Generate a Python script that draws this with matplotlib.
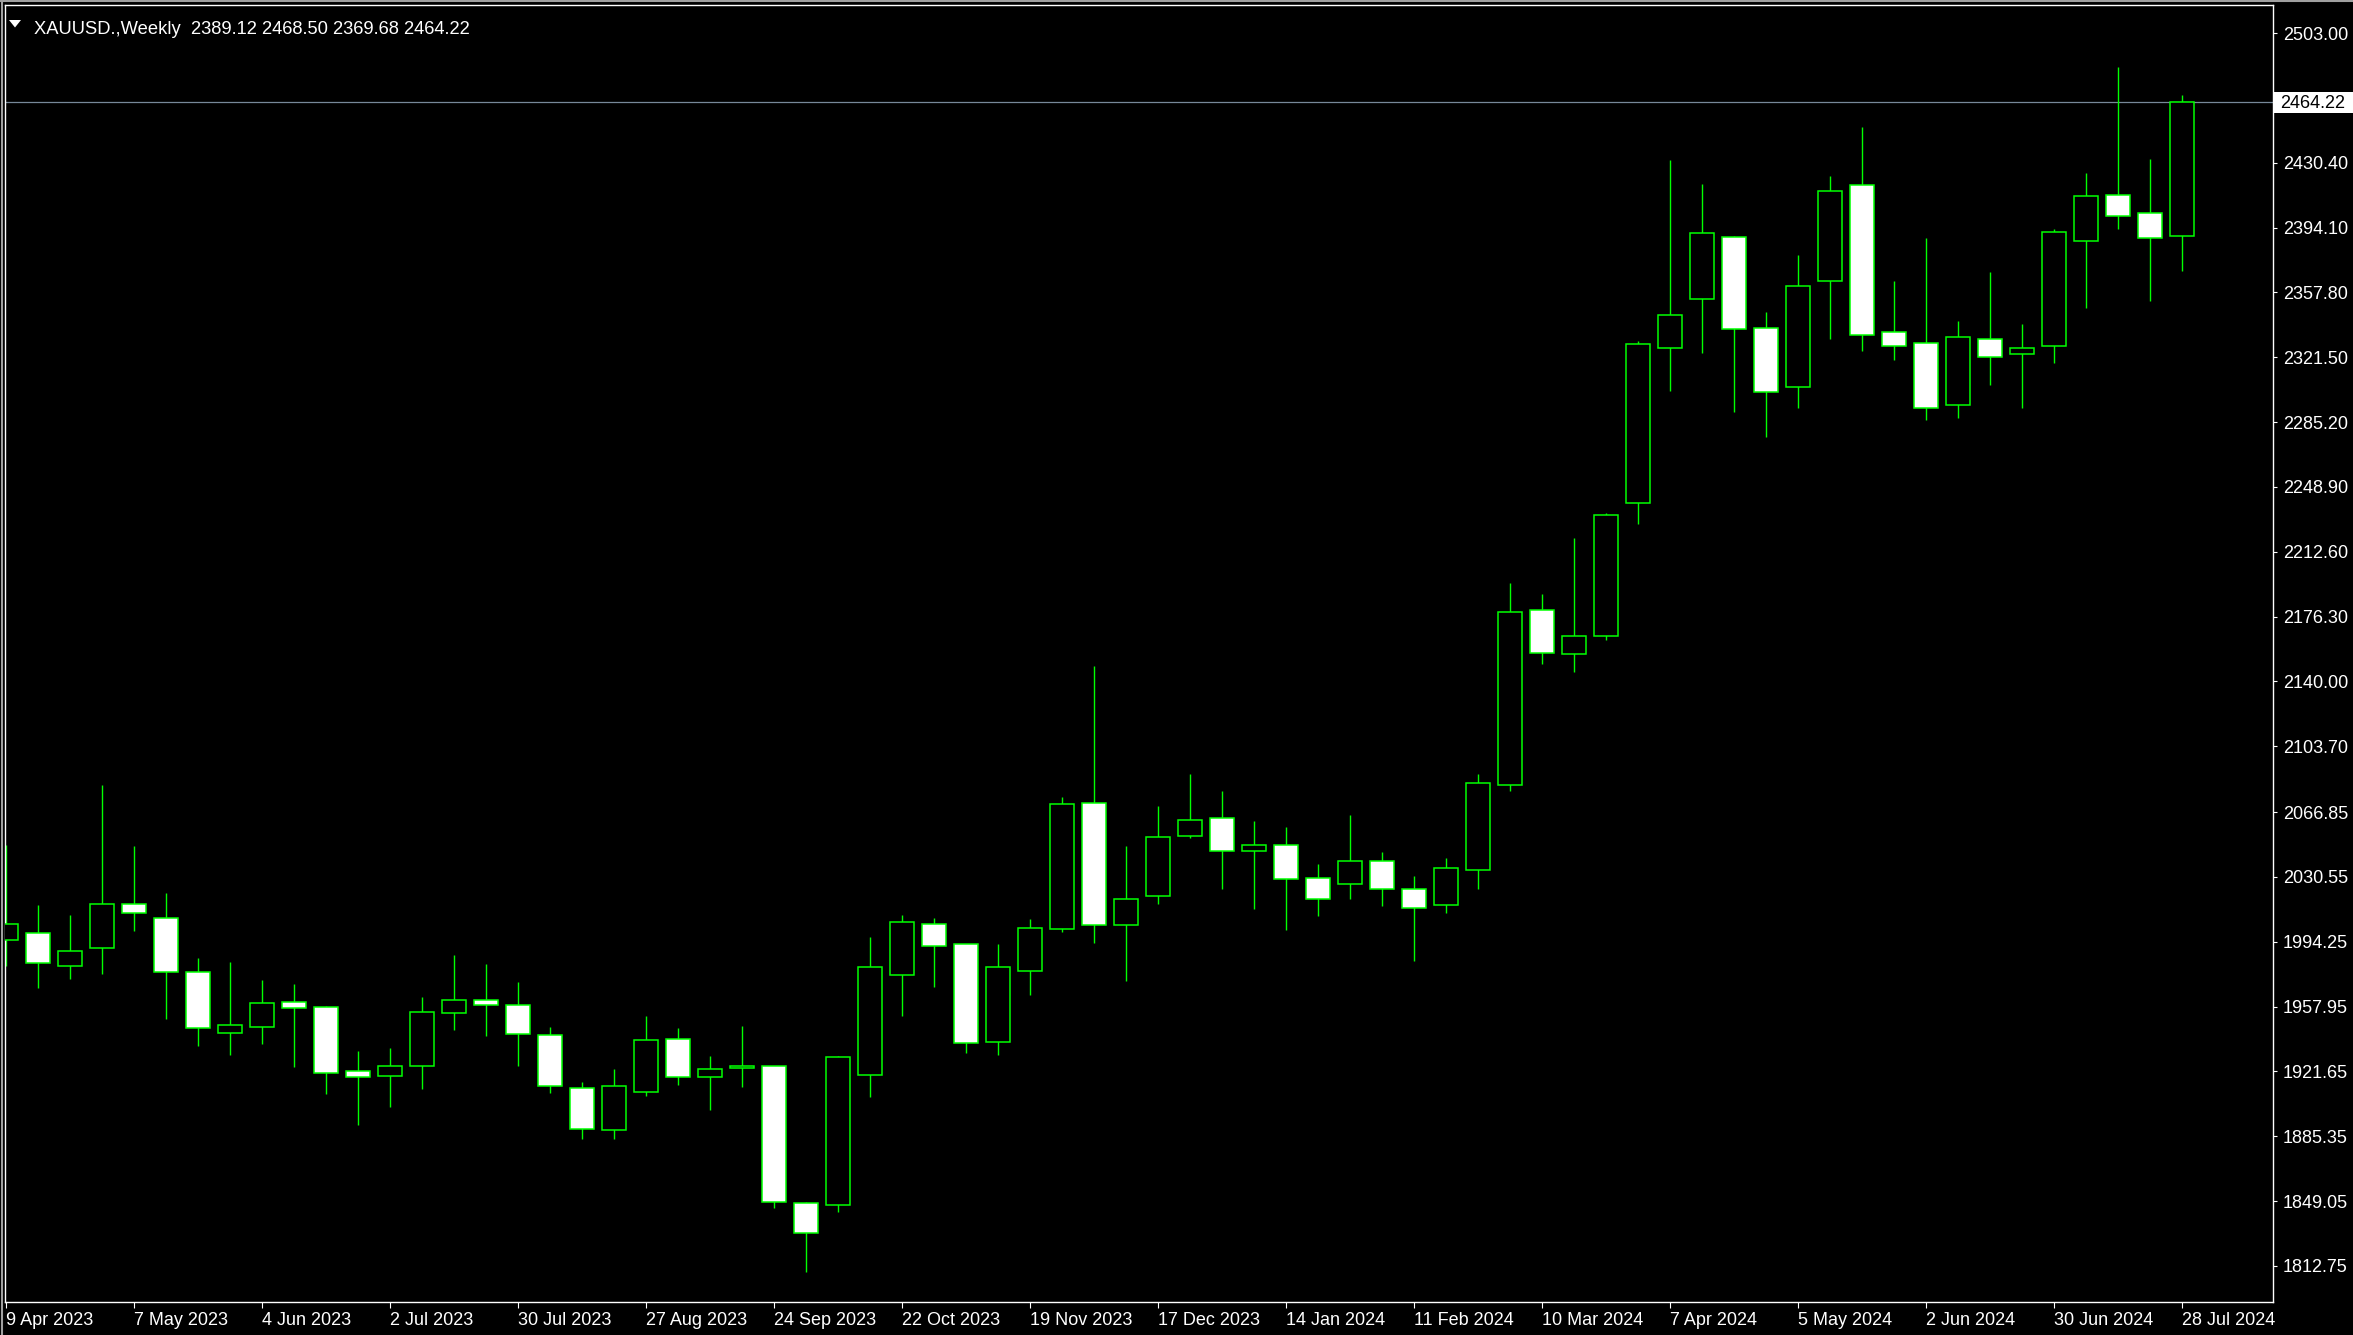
import numpy as np
import matplotlib.pyplot as plt
from matplotlib.patches import Rectangle, Polygon
from matplotlib.transforms import blended_transform_factory

# weekly XAUUSD bars
opens = [1995.0, 1998.9, 1980.4, 1990.5, 2015.2, 2007.3, 1977.1, 1942.9, 1946.3, 1960.3,
         1957.5, 1921.7, 1918.9, 1924.5, 1954.1, 1961.4, 1958.6, 1941.8, 1912.1, 1888.6,
         1909.9, 1939.6, 1918.3, 1923.3, 1924.5, 1847.7, 1846.6, 1919.4, 1975.4, 2004.0,
         1992.8, 1937.9, 1977.6, 2001.2, 2072.1, 2003.4, 2019.6, 2053.2, 2063.3, 2044.8,
         2048.2, 2029.7, 2026.4, 2039.2, 2023.6, 2014.6, 2034.2, 2081.8, 2179.8, 2155.1,
         2165.2, 2239.7, 2326.5, 2353.9, 2388.6, 2337.7, 2304.6, 2364.0, 2417.7, 2335.4,
         2329.3, 2294.6, 2331.5, 2323.1, 2327.6, 2386.4, 2412.1, 2402.1, 2389.12]
highs = [2048.4, 2014.8, 2009.2, 2082.0, 2047.8, 2021.3, 1985.1, 1982.9, 1972.8, 1970.6,
         1958.0, 1933.0, 1934.7, 1963.3, 1986.8, 1981.8, 1971.7, 1946.5, 1915.7, 1923.0,
         1952.6, 1945.9, 1930.2, 1947.0, 1924.6, 1848.5, 1930.2, 1996.9, 2009.2, 2007.5,
         1992.8, 1992.9, 2006.9, 2075.2, 2148.6, 2047.8, 2070.2, 2088.1, 2078.6, 2061.8,
         2058.5, 2037.7, 2065.2, 2044.5, 2031.0, 2041.1, 2088.1, 2195.1, 2188.9, 2220.3,
         2234.3, 2330.6, 2431.9, 2418.5, 2389.4, 2346.8, 2378.6, 2423.0, 2450.4, 2364.2,
         2388.2, 2341.8, 2369.2, 2340.1, 2393.1, 2424.4, 2484.0, 2432.5, 2468.50]
lows = [1980.8, 1968.5, 1973.5, 1976.3, 2000.4, 1951.1, 1936.0, 1931.0, 1937.1, 1924.3,
        1909.2, 1891.8, 1901.9, 1912.0, 1945.0, 1941.6, 1924.8, 1909.5, 1883.8, 1883.8,
        1908.0, 1914.2, 1900.2, 1913.1, 1845.3, 1809.5, 1843.1, 1907.3, 1952.8, 1969.1,
        1932.1, 1931.0, 1964.6, 1999.8, 1993.7, 1972.4, 2015.5, 2052.5, 2023.9, 2012.7,
        2001.0, 2008.8, 2018.3, 2014.4, 1983.6, 2010.5, 2023.9, 2078.8, 2149.9, 2145.4,
        2163.3, 2228.3, 2302.8, 2324.0, 2291.0, 2277.0, 2293.0, 2331.9, 2325.2, 2320.1,
        2286.5, 2287.6, 2306.1, 2293.2, 2318.4, 2349.2, 2393.5, 2353.2, 2369.68]
closes = [2004.0, 1982.1, 1988.8, 2015.2, 2010.1, 1977.1, 1945.7, 1947.4, 1959.7, 1956.9,
          1920.5, 1918.3, 1924.6, 1954.7, 1961.4, 1958.6, 1942.4, 1913.3, 1889.2, 1913.3,
          1939.0, 1918.3, 1922.8, 1924.5, 1848.3, 1830.9, 1929.5, 1979.9, 2005.1, 1991.6,
          1937.3, 1979.9, 2001.7, 2071.1, 2003.4, 2018.0, 2052.7, 2062.2, 2044.8, 2048.2,
          2029.2, 2018.0, 2039.2, 2023.7, 2013.1, 2035.3, 2082.9, 2178.7, 2155.7, 2165.2,
          2233.0, 2328.7, 2344.9, 2390.9, 2337.1, 2301.8, 2361.2, 2414.4, 2333.7, 2327.6,
          2292.9, 2332.6, 2321.4, 2326.5, 2391.4, 2411.6, 2400.4, 2388.1, 2464.22]

date_labels = ["9 Apr 2023", "7 May 2023", "4 Jun 2023", "2 Jul 2023", "30 Jul 2023",
               "27 Aug 2023", "24 Sep 2023", "22 Oct 2023", "19 Nov 2023", "17 Dec 2023",
               "14 Jan 2024", "11 Feb 2024", "10 Mar 2024", "7 Apr 2024", "5 May 2024",
               "2 Jun 2024", "30 Jun 2024", "28 Jul 2024"]
price_ticks = [2503.00, 2430.40, 2394.10, 2357.80, 2321.50, 2285.20, 2248.90, 2212.60,
               2176.30, 2140.00, 2103.70, 2066.85, 2030.55, 1994.25, 1957.95, 1921.65,
               1885.35, 1849.05, 1812.75]
last_price = 2464.22

W, H = 2353, 1335
font = 'Liberation Sans'
green = '#00ff00'

fig = plt.figure(figsize=(W / 100, H / 100), dpi=100, facecolor='black')
# chart frame in pixels: x 5..2273, y 5..1302 (from top)
ax = fig.add_axes([5 / W, (H - 1302) / H, (2273 - 5) / W, (1302 - 5) / H])
ax.set_facecolor('black')

n = len(opens)
x = np.arange(n)
bw = 0.75
ax.vlines(x, lows, highs, color=green, linewidth=1.0, zorder=2)
for i in range(n):
    o, c = opens[i], closes[i]
    fc = 'black' if c >= o else 'white'
    ax.add_patch(Rectangle((i - bw / 2, min(o, c)), bw, max(abs(c - o), 0.3),
                           facecolor=fc, edgecolor=green, linewidth=1.1, zorder=3))

ax.set_xlim(-0.04, 70.83)
ax.set_ylim(1792.5, 2518.7)

# current price line
ax.axhline(last_price, color='#778899', linewidth=0.9, zorder=1)

for sp in ax.spines.values():
    sp.set_color('white')
    sp.set_linewidth(1.0)

ax.set_xticks(x[::4])
ax.set_xticklabels(date_labels, ha='left', fontsize=13, family=font, color='white')
ax.tick_params(axis='x', direction='out', length=4, width=0.8, color='white', pad=3)
ax.yaxis.tick_right()
ax.set_yticks(price_ticks)
ax.set_yticklabels(['%.2f' % v for v in price_ticks], fontsize=13, family=font, color='white')
ax.tick_params(axis='y', direction='out', length=3, width=0.8, color='white', pad=4)

# price label on the axis
tr = blended_transform_factory(fig.transFigure, ax.transData)
box_h = 21 / 1.786
ax.add_patch(Rectangle((2274 / W, last_price - box_h / 2), 79 / W, box_h, transform=tr,
                       facecolor='white', edgecolor='none', clip_on=False, zorder=5))
ax.text(2280 / W, last_price - 0.6, '%.2f' % last_price, transform=tr, fontsize=13, family=font,
        color='black', va='center', ha='left', zorder=6, clip_on=False)

# header
fig.text(33.5 / W, 1 - 33.5 / H, 'XAUUSD.,Weekly  2389.12 2468.50 2369.68 2464.22',
         fontsize=13.2, family=font, color='white', va='baseline', ha='left')
tri = [(9 / W, 1 - 20 / H), (21 / W, 1 - 20 / H), (15 / W, 1 - 27.5 / H)]
fig.patches.append(Polygon(tri, closed=True, transform=fig.transFigure,
                           facecolor='white', edgecolor='none'))

# window border
fig.add_artist(plt.Line2D([0, 1], [1 - 1 / H, 1 - 1 / H], transform=fig.transFigure,
                          color='#a0a0a0', linewidth=1.5))
fig.add_artist(plt.Line2D([1.5 / W, 1.5 / W], [0, 1], transform=fig.transFigure,
                          color='#a0a0a0', linewidth=1.5))

fig.savefig('out.png', dpi=100, facecolor='black')
